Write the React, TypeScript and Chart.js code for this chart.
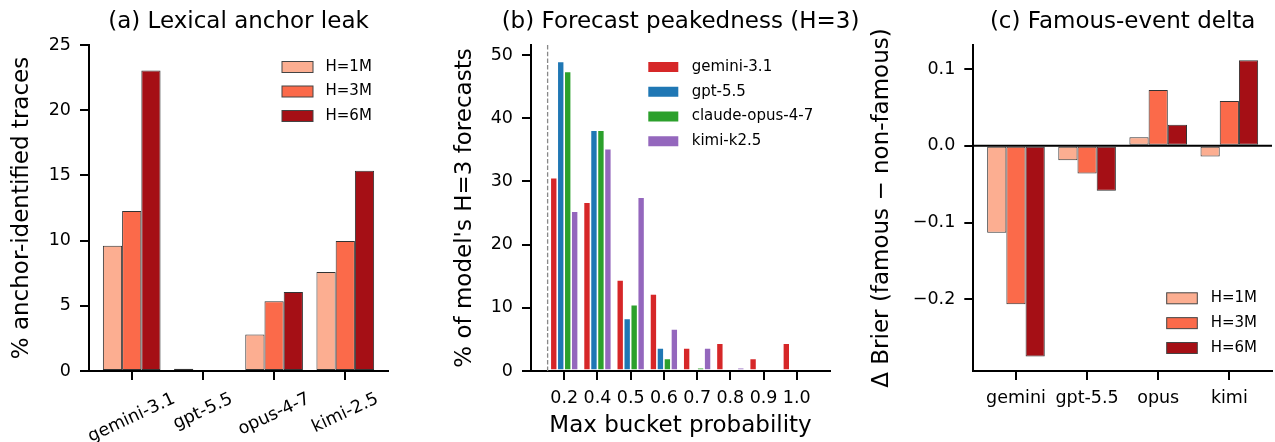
import React, { useEffect, useRef } from 'react';
import { Chart, registerables } from 'chart.js';

Chart.register(...registerables);

const FONT = "'DejaVu Sans', sans-serif";
Chart.defaults.font.family = FONT;

// ---------- Panel (a): Lexical anchor leak ----------
const HORIZONS = ['H=1M', 'H=3M', 'H=6M'];
const LEAK_MODELS = ['gemini-3.1', 'gpt-5.5', 'opus-4-7', 'kimi-2.5'];
const LEAK_1M = [9.6, 0.18, 2.8, 7.6];
const LEAK_3M = [12.27, 0, 5.35, 9.97];
const LEAK_6M = [23.05, 0, 6.06, 15.36];
const LEAK_TICKS = [0, 5, 10, 15, 20, 25];

// ---------- Panel (b): Forecast peakedness ----------
const BUCKETS = ['0.2', '0.4', '0.5', '0.6', '0.7', '0.8', '0.9', '1.0'];
const PEAK_MODELS = ['gemini-3.1', 'gpt-5.5', 'claude-opus-4-7', 'kimi-k2.5'];
const PEAK_GEMINI = [30.6, 26.7, 14.4, 12.2, 3.65, 4.39, 2.0, 4.39];
const PEAK_GPT = [49.0, 38.1, 8.3, 3.65, 0, 0, 0, 0];
const PEAK_CLAUDE = [47.4, 38.1, 10.5, 2.0, 0.53, 0, 0, 0];
const PEAK_KIMI = [25.3, 35.2, 27.5, 6.66, 3.65, 0.53, 0, 0];
const PEAK_TICKS = [0, 10, 20, 30, 40, 50];
const UNIFORM_LINE_POS = -0.5;

// ---------- Panel (c): Famous-event delta ----------
const DELTA_MODELS = ['gemini', 'gpt-5.5', 'opus', 'kimi'];
const DELTA_1M = [-0.1134, -0.019, 0.011, -0.0138];
const DELTA_3M = [-0.2064, -0.036, 0.0726, 0.0583];
const DELTA_6M = [-0.2746, -0.0587, 0.0274, 0.1113];
const DELTA_TICKS = [-0.2, -0.1, 0, 0.1];
const DELTA_ZERO = 0;

const REDS = ['#fcae91', '#fb6a4a', '#a50f15'];
const TAB = ['#d62728', '#1f77b4', '#2ca02c', '#9467bd'];
const EDGE = '#333333';

const TICK_SIZE = 17.5;
const LABEL_SIZE = 23;
const LEGEND_SIZE = 15;
const W = 1275;
const H = 442;

const toXY = (arr: number[]) => arr.map((v, i) => ({ x: i, y: v }));

// ---------- plugins ----------
function titlePlugin(text: string, y: number) {
  return {
    id: 'panelTitle',
    afterDraw(chart: any) {
      const { ctx, chartArea } = chart;
      ctx.save();
      ctx.font = `${LABEL_SIZE}px ${FONT}`;
      ctx.fillStyle = '#000';
      ctx.textAlign = 'center';
      ctx.textBaseline = 'middle';
      ctx.fillText(text, (chartArea.left + chartArea.right) / 2, y);
      ctx.restore();
    },
  };
}

function legendPlugin(x: number, y: number, gap: number, boxW: number, boxH: number, textGap: number, edge: string | null) {
  return {
    id: 'boxLegend',
    afterDraw(chart: any) {
      const ctx = chart.ctx;
      ctx.save();
      ctx.font = `${LEGEND_SIZE}px ${FONT}`;
      ctx.textAlign = 'left';
      ctx.textBaseline = 'middle';
      chart.data.datasets.forEach((ds: any, i: number) => {
        const cy = y + i * gap;
        ctx.fillStyle = ds.backgroundColor;
        ctx.fillRect(x, cy - boxH / 2, boxW, boxH);
        if (edge) {
          ctx.strokeStyle = edge;
          ctx.lineWidth = 1;
          ctx.strokeRect(x, cy - boxH / 2, boxW, boxH);
        }
        ctx.fillStyle = '#000';
        ctx.fillText(ds.label, x + boxW + textGap, cy);
      });
      ctx.restore();
    },
  };
}

function vLinePlugin(value: number) {
  return {
    id: 'vRefLine',
    beforeDatasetsDraw(chart: any) {
      const { ctx, chartArea, scales } = chart;
      const px = scales.x.getPixelForValue(value);
      ctx.save();
      ctx.strokeStyle = '#888888';
      ctx.lineWidth = 1.3;
      ctx.setLineDash([4.5, 2.2]);
      ctx.beginPath();
      ctx.moveTo(px, chartArea.top);
      ctx.lineTo(px, chartArea.bottom);
      ctx.stroke();
      ctx.restore();
    },
  };
}

function hLinePlugin(value: number) {
  return {
    id: 'hRefLine',
    afterDatasetsDraw(chart: any) {
      const { ctx, chartArea, scales } = chart;
      const py = scales.y.getPixelForValue(value);
      ctx.save();
      ctx.strokeStyle = '#000';
      ctx.lineWidth = 2;
      ctx.beginPath();
      ctx.moveTo(chartArea.left, py);
      ctx.lineTo(chartArea.right, py);
      ctx.stroke();
      ctx.restore();
    },
  };
}

function rotatedTicksPlugin(labels: string[], angleDeg: number, offset: number) {
  return {
    id: 'rotatedTicks',
    afterDraw(chart: any) {
      const { ctx, scales } = chart;
      const xs = scales.x;
      const ang = (angleDeg * Math.PI) / 180;
      const lh = TICK_SIZE * 1.164;
      ctx.save();
      ctx.font = `${TICK_SIZE}px ${FONT}`;
      ctx.fillStyle = '#000';
      ctx.textAlign = 'center';
      ctx.textBaseline = 'middle';
      labels.forEach((lab, i) => {
        const w = ctx.measureText(lab).width;
        const bh = w * Math.sin(ang) + lh * Math.cos(ang);
        const cx = xs.getPixelForValue(i);
        const cy = xs.top + offset + bh / 2;
        ctx.save();
        ctx.translate(cx, cy);
        ctx.rotate(-ang);
        ctx.fillText(lab, 0, 0);
        ctx.restore();
      });
      ctx.restore();
    },
  };
}

// ---------- axes ----------
const gridCfg = {
  display: true,
  drawOnChartArea: false,
  drawTicks: true,
  offset: false,
  tickLength: 9,
  tickWidth: 2,
  tickColor: '#000',
  lineWidth: 2,
  color: '#000',
};
const borderCfg = { display: true, color: '#000', width: 2 };

function yAxis(min: number, max: number, ticks: number[], width: number, title: string, titlePad: number, fmt: (v: number) => string) {
  return {
    type: 'linear',
    min,
    max,
    afterBuildTicks: (s: any) => {
      s.ticks = ticks.map((v) => ({ value: v }));
    },
    afterFit: (s: any) => {
      s.width = width;
    },
    ticks: { font: { family: FONT, size: TICK_SIZE }, color: '#000', padding: 9, callback: (v: any) => fmt(Number(v)) },
    grid: gridCfg,
    border: borderCfg,
    title: {
      display: true,
      text: title,
      color: '#000',
      font: { family: FONT, size: LABEL_SIZE },
      padding: { top: titlePad, bottom: 0 },
    },
  };
}

function xAxis(min: number, max: number, labels: string[], showLabels: boolean, title: string | null) {
  return {
    type: 'linear',
    offset: false,
    min,
    max,
    afterBuildTicks: (s: any) => {
      s.ticks = labels.map((_, i) => ({ value: i }));
    },
    afterFit: (s: any) => {
      s.height = 71;
    },
    ticks: {
      display: showLabels,
      font: { family: FONT, size: TICK_SIZE },
      color: '#000',
      padding: 7.5,
      maxRotation: 0,
      minRotation: 0,
      autoSkip: false,
      callback: (_v: any, i: number) => labels[i],
    },
    grid: gridCfg,
    border: borderCfg,
    title: title
      ? { display: true, text: title, color: '#000', font: { family: FONT, size: LABEL_SIZE }, padding: { top: 0, bottom: 2.2 } }
      : { display: false },
  };
}

const baseOptions = (padding: any, scales: any) => ({
  responsive: false,
  animation: false,
  events: [],
  devicePixelRatio: 1,
  layout: { padding },
  plugins: { legend: { display: false }, tooltip: { enabled: false }, title: { display: false } },
  scales,
});

const intFmt = (v: number) => String(Math.round(v));
const deltaFmt = (v: number) => {
  if (Math.abs(v) < 1e-9) return '0.0';
  const s = Math.abs(v).toFixed(1);
  return v < 0 ? '\u2212' + s : s;
};

// ---------- configs ----------
function configA(): any {
  const series = [LEAK_1M, LEAK_3M, LEAK_6M];
  return {
    type: 'bar',
    data: {
      datasets: HORIZONS.map((h, k) => ({
        label: h,
        data: toXY(series[k]),
        backgroundColor: REDS[k],
        borderColor: EDGE,
        borderWidth: 1,
        borderSkipped: false,
        categoryPercentage: 0.81,
        barPercentage: 1,
      })),
    },
    options: baseOptions(
      { left: 0, right: W - 388, top: 45, bottom: 0 },
      {
        x: xAxis(-0.6, LEAK_MODELS.length - 0.4, LEAK_MODELS, false, null),
        y: yAxis(0, 25, LEAK_TICKS, 89, '% anchor-identified traces', 8.2, intFmt),
      }
    ),
    plugins: [
      titlePlugin('(a) Lexical anchor leak', 22),
      legendPlugin(282, 67, 24.5, 31, 11, 12.5, '#444'),
      rotatedTicksPlugin(LEAK_MODELS, 25, 18),
    ],
  };
}

function configB(): any {
  const series = [PEAK_GEMINI, PEAK_GPT, PEAK_CLAUDE, PEAK_KIMI];
  return {
    type: 'bar',
    data: {
      datasets: PEAK_MODELS.map((m, k) => ({
        label: m,
        data: toXY(series[k]),
        backgroundColor: TAB[k],
        borderColor: '#ffffff',
        borderWidth: 0.8,
        borderSkipped: false,
        categoryPercentage: 0.84,
        barPercentage: 1,
      })),
    },
    options: baseOptions(
      { left: 430, right: W - 830, top: 45, bottom: 0 },
      {
        x: xAxis(-1, BUCKETS.length, BUCKETS, true, 'Max bucket probability'),
        y: yAxis(0, 51.6, PEAK_TICKS, 101, "% of model's H=3 forecasts", 20.9, intFmt),
      }
    ),
    plugins: [
      titlePlugin('(b) Forecast peakedness (H=3)', 22),
      legendPlugin(648.3, 67, 24.75, 30, 10, 13.4, null),
      vLinePlugin(UNIFORM_LINE_POS),
    ],
  };
}

function configC(): any {
  const series = [DELTA_1M, DELTA_3M, DELTA_6M];
  return {
    type: 'bar',
    data: {
      datasets: HORIZONS.map((h, k) => ({
        label: h,
        data: toXY(series[k]),
        backgroundColor: REDS[k],
        borderColor: EDGE,
        borderWidth: 1,
        borderSkipped: false,
        categoryPercentage: 0.81,
        barPercentage: 1,
      })),
    },
    options: baseOptions(
      { left: 860, right: W - 1272, top: 45, bottom: 0 },
      {
        x: xAxis(-0.6, DELTA_MODELS.length - 0.4, DELTA_MODELS, true, null),
        y: yAxis(-0.2934, 0.1313, DELTA_TICKS, 113.3, 'Δ Brier (famous \u2212 non-famous)', 8.2, deltaFmt),
      }
    ),
    plugins: [
      titlePlugin('(c) Famous-event delta', 22),
      legendPlugin(1166.7, 298.3, 24.85, 30.6, 11, 13.4, '#444'),
      hLinePlugin(DELTA_ZERO),
    ],
  };
}

function ChartLayer({ make }: { make: () => any }) {
  const ref = useRef<HTMLCanvasElement | null>(null);
  useEffect(() => {
    if (!ref.current) return;
    const chart = new Chart(ref.current, make());
    return () => chart.destroy();
  }, [make]);
  return (
    <canvas
      ref={ref}
      width={W}
      height={H}
      style={{ position: 'absolute', left: 0, top: 0, width: W, height: H }}
    />
  );
}

export default function App() {
  return (
    <div style={{ position: 'absolute', left: 0, top: 0, width: W, height: H, background: '#ffffff', overflow: 'hidden' }}>
      <ChartLayer make={configA} />
      <ChartLayer make={configB} />
      <ChartLayer make={configC} />
    </div>
  );
}
